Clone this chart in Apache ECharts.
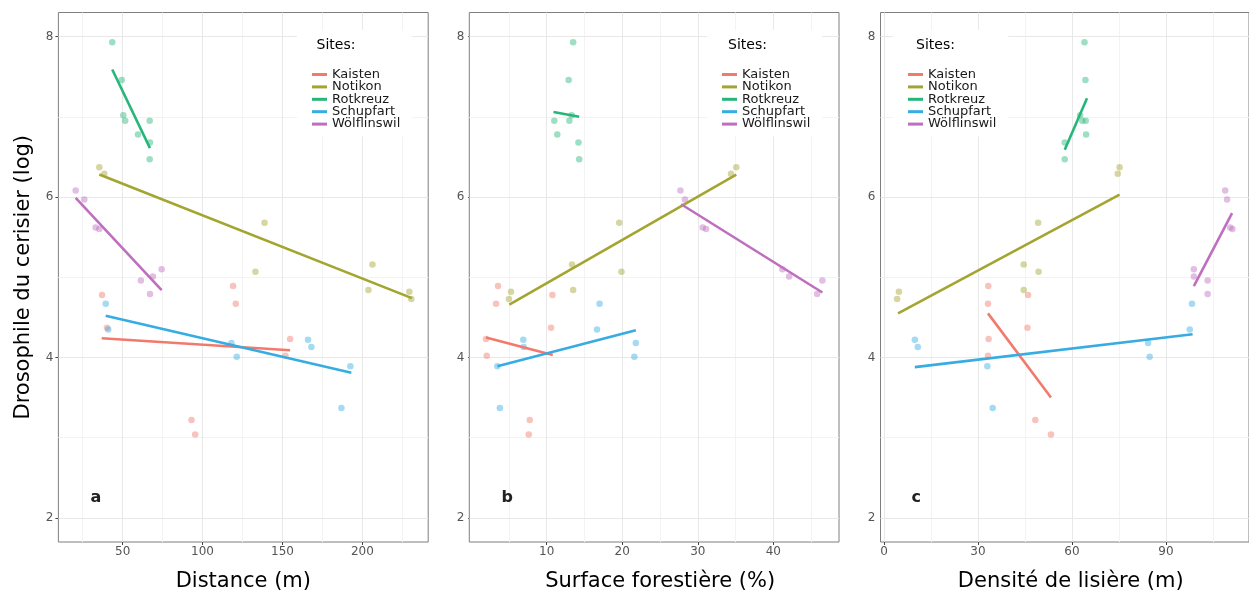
<!DOCTYPE html>
<html><head><meta charset="utf-8">
<script src="https://cdn.jsdelivr.net/npm/echarts@6/dist/echarts.min.js"></script>
<style>html,body{margin:0;padding:0;background:#fff}#c{width:1249px;height:597px}</style>
</head><body><div id="c"></div>
<script>
// ---------- DATA ----------
const sites = ['Kaisten', 'Notikon', 'Rotkreuz', 'Schupfart', 'Wölflinswil'];

// log abundance of Drosophila per trap (shared by the three panels)
const yKaisten     = [4.89, 4.78, 4.67, 4.37, 4.23, 4.02, 3.22, 3.04];
const yNotikon     = [6.37, 6.29, 5.68, 5.16, 5.07, 4.84, 4.82, 4.73];
const yRotkreuz    = [7.93, 7.46, 7.02, 6.95, 6.95, 6.78, 6.68, 6.47];
const ySchupfart   = [4.67, 4.35, 4.22, 4.18, 4.13, 4.01, 3.89, 3.37];
const yWolflinswil = [6.08, 5.97, 5.62, 5.60, 5.10, 5.01, 4.96, 4.79];

// panel a: distance (m)
const distKaisten     = [119.1, 37.1, 120.8, 40.2, 154.8, 151.9, 93.1, 95.4];
const distNotikon     = [35.4, 38.5, 138.8, 206.3, 133.1, 203.8, 229.4, 230.6];
const distRotkreuz    = [43.5, 49.4, 50.4, 51.6, 66.9, 59.6, 67.1, 66.9];
const distSchupfart   = [39.4, 41.0, 166.0, 118.1, 168.1, 121.4, 192.5, 186.9];
const distWolflinswil = [20.6, 26.0, 33.1, 35.4, 74.4, 68.9, 61.4, 67.1];

// panel b: forest cover (%)
const forestKaisten     = [3.55, 10.75, 3.29, 10.57, 1.96, 2.06, 7.75, 7.62];
const forestNotikon     = [35.1, 34.4, 19.6, 13.35, 19.9, 13.5, 5.27, 5.0];
const forestRotkreuz    = [13.5, 12.9, 13.3, 11.0, 13.0, 11.4, 14.2, 14.3];
const forestSchupfart   = [17.0, 16.66, 6.9, 21.8, 6.95, 21.6, 3.46, 3.8];
const forestWolflinswil = [27.7, 28.3, 30.65, 31.1, 41.2, 42.1, 46.5, 45.8];

// panel c: edge density (m)
const edgeKaisten     = [33.3, 46.0, 33.2, 45.8, 33.4, 33.2, 48.3, 53.3];
const edgeNotikon     = [75.2, 74.6, 49.2, 44.6, 49.35, 44.6, 4.77, 4.2];
const edgeRotkreuz    = [64.0, 64.3, 62.6, 63.3, 64.4, 64.5, 57.7, 57.7];
const edgeSchupfart   = [98.3, 97.6, 9.85, 84.3, 10.8, 84.8, 33.0, 34.7];
const edgeWolflinswil = [108.9, 109.5, 110.5, 111.2, 98.9, 98.9, 103.3, 103.3];

// fitted lines (end points)
const trendDistance = {
  'Kaisten':     [[36.9, 4.24], [154.8, 4.09]],
  'Notikon':     [[35.4, 6.28], [231.0, 4.74]],
  'Rotkreuz':    [[43.5, 7.59], [67.1, 6.61]],
  'Schupfart':   [[39.4, 4.52], [193.1, 3.81]],
  'Wölflinswil': [[20.6, 5.99], [74.4, 4.84]]
};
const trendForest = {
  'Kaisten':     [[1.96, 4.25], [10.8, 4.03]],
  'Notikon':     [[5.05, 4.66], [35.1, 6.28]],
  'Rotkreuz':    [[10.9, 7.06], [14.3, 7.00]],
  'Schupfart':   [[3.46, 3.89], [21.8, 4.34]],
  'Wölflinswil': [[27.8, 5.91], [46.5, 4.81]]
};
const trendEdge = {
  'Kaisten':     [[33.2, 4.55], [53.3, 3.50]],
  'Notikon':     [[4.5, 4.55], [75.2, 6.03]],
  'Rotkreuz':    [[57.7, 6.59], [64.8, 7.23]],
  'Schupfart':   [[9.85, 3.88], [98.5, 4.29]],
  'Wölflinswil': [[98.9, 4.89], [111.1, 5.80]]
};

// axis breaks
const yMajor = [2, 4, 6, 8];
const yMinor = [3, 5, 7];
const distMajor = [50, 100, 150, 200];
const distMinor = [25, 75, 125, 175, 225];
const forestMajor = [10, 20, 30, 40];
const forestMinor = [5, 15, 25, 35, 45];
const edgeMajor = [0, 30, 60, 90];
const edgeMinor = [15, 45, 75, 105];

const xTitles = ['Distance (m)', 'Surface forestière (%)', 'Densité de lisière (m)'];
const yTitle = 'Drosophile du cerisier (log)';
const panelLetters = ['a', 'b', 'c'];

// ---------- BUILD ----------
const yBySite = {'Kaisten': yKaisten, 'Notikon': yNotikon, 'Rotkreuz': yRotkreuz, 'Schupfart': ySchupfart, 'Wölflinswil': yWolflinswil};
const xPanels = [
  {'Kaisten': distKaisten, 'Notikon': distNotikon, 'Rotkreuz': distRotkreuz, 'Schupfart': distSchupfart, 'Wölflinswil': distWolflinswil},
  {'Kaisten': forestKaisten, 'Notikon': forestNotikon, 'Rotkreuz': forestRotkreuz, 'Schupfart': forestSchupfart, 'Wölflinswil': forestWolflinswil},
  {'Kaisten': edgeKaisten, 'Notikon': edgeNotikon, 'Rotkreuz': edgeRotkreuz, 'Schupfart': edgeSchupfart, 'Wölflinswil': edgeWolflinswil}
];
const trends = [trendDistance, trendForest, trendEdge];
const xMajors = [distMajor, forestMajor, edgeMajor];
const xMinors = [distMinor, forestMinor, edgeMinor];

// ---------- STYLE / LAYOUT ----------
const FONT = 'DejaVu Sans';
const colors = {'Kaisten': '#F27A6D', 'Notikon': '#A3A530', 'Rotkreuz': '#27B67A', 'Schupfart': '#36ACE2', 'Wölflinswil': '#BE6FBE'};
const gridBoxes = [
  {left: 58.4, top: 12.5, width: 369.8, height: 530.3},
  {left: 469.3, top: 12.5, width: 369.7, height: 530.3},
  {left: 880.5, top: 12.5, width: 370, height: 530.3}
];
const xRanges = [[9.8, 241.2], [-0.25, 48.7], [-1.1, 116.5]];
const xSplit = [5, 5, 4];
const legendLeft = [297, 707, 893];
const sitesTitleLeft = [316.5, 728, 916];
const letterLeft = [90.5, 501.5, 911.5];
const nameShift = [0, 12, 12];

const option = {
  animation: false,
  backgroundColor: '#fff',
  grid: [], xAxis: [], yAxis: [], series: [], legend: [], title: []
};

for (let p = 0; p < 3; p++) {
  option.grid.push(Object.assign({show: true, borderColor: '#7f7f7f', borderWidth: 1, containLabel: false}, gridBoxes[p]));
  option.xAxis.push({
    type: 'value', gridIndex: p, min: xRanges[p][0], max: xRanges[p][1], splitNumber: xSplit[p],
    axisLine: {show: false},
    axisTick: {show: true, length: 3, lineStyle: {color: '#444'}, customValues: xMajors[p]},
    axisLabel: {fontFamily: FONT, fontSize: 12, color: '#555', margin: 4, customValues: xMajors[p]},
    splitLine: {show: false},
    name: xTitles[p], nameLocation: 'middle', nameGap: 29,
    nameTextStyle: {fontFamily: FONT, fontSize: 21, color: '#000', padding: [0, 0, 0, nameShift[p]]}
  });
  option.yAxis.push({
    type: 'value', gridIndex: p, min: 1.7, max: 8.3, splitNumber: 3,
    axisLine: {show: false},
    axisTick: {show: true, length: 3, lineStyle: {color: '#444'}, customValues: yMajor},
    axisLabel: {fontFamily: FONT, fontSize: 12, color: '#555', margin: 5, customValues: yMajor},
    splitLine: {show: false},
    name: p === 0 ? yTitle : '', nameLocation: 'middle', nameGap: 24, nameRotate: 90,
    nameTextStyle: {fontFamily: FONT, fontSize: 21, color: '#000'}
  });
  // grid lines through the axes' own scales
  const gl = [];
  xMinors[p].forEach(v => gl.push({xAxis: v, lineStyle: {color: '#F3F3F3', width: 1, type: 'solid'}}));
  yMinor.forEach(v => gl.push({yAxis: v, lineStyle: {color: '#F3F3F3', width: 1, type: 'solid'}}));
  xMajors[p].forEach(v => gl.push({xAxis: v, lineStyle: {color: '#E8E8E8', width: 1, type: 'solid'}}));
  yMajor.forEach(v => gl.push({yAxis: v, lineStyle: {color: '#E8E8E8', width: 1, type: 'solid'}}));
  option.series.push({
    type: 'scatter', name: 'grid' + p, xAxisIndex: p, yAxisIndex: p, data: [], z: 1, silent: true,
    markLine: {silent: true, z: 1, symbol: ['none', 'none'], label: {show: false}, animation: false, emphasis: {disabled: true}, data: gl}
  });
  // fitted lines first (so legend takes their colour)
  sites.forEach(s => {
    option.series.push({
      type: 'line', name: s, xAxisIndex: p, yAxisIndex: p, data: trends[p][s],
      symbol: 'none', showSymbol: false, z: 3, silent: true,
      lineStyle: {color: colors[s], width: 2.6}, itemStyle: {color: colors[s]}
    });
  });
  sites.forEach(s => {
    const pts = xPanels[p][s].map((x, i) => [x, yBySite[s][i]]);
    option.series.push({
      type: 'scatter', name: s, xAxisIndex: p, yAxisIndex: p, data: pts,
      symbolSize: 6.5, z: 2, silent: true,
      itemStyle: {color: colors[s], opacity: 0.45}
    });
  });
  option.legend.push({
    orient: 'vertical', left: legendLeft[p], top: 30, padding: [38, 12, 6, 15],
    backgroundColor: '#fff', itemWidth: 15, itemHeight: 3, itemGap: -0.6, icon: 'rect',
    selectedMode: false, data: sites,
    textStyle: {fontFamily: FONT, fontSize: 13, color: '#1a1a1a', lineHeight: 12.25, height: 12.25}
  });
  option.title.push({
    text: 'Sites:', left: sitesTitleLeft[p], top: 38, padding: 0,
    textStyle: {fontFamily: FONT, fontSize: 14, fontWeight: 'normal', color: '#000'}
  });
  option.title.push({
    text: panelLetters[p], left: letterLeft[p], top: 490, padding: 0,
    textStyle: {fontFamily: FONT, fontSize: 16, fontWeight: 'bold', color: '#222'}
  });
}

const chart = echarts.init(document.getElementById('c'), null, {renderer: 'canvas'});
chart.setOption(option);
</script></body></html>
